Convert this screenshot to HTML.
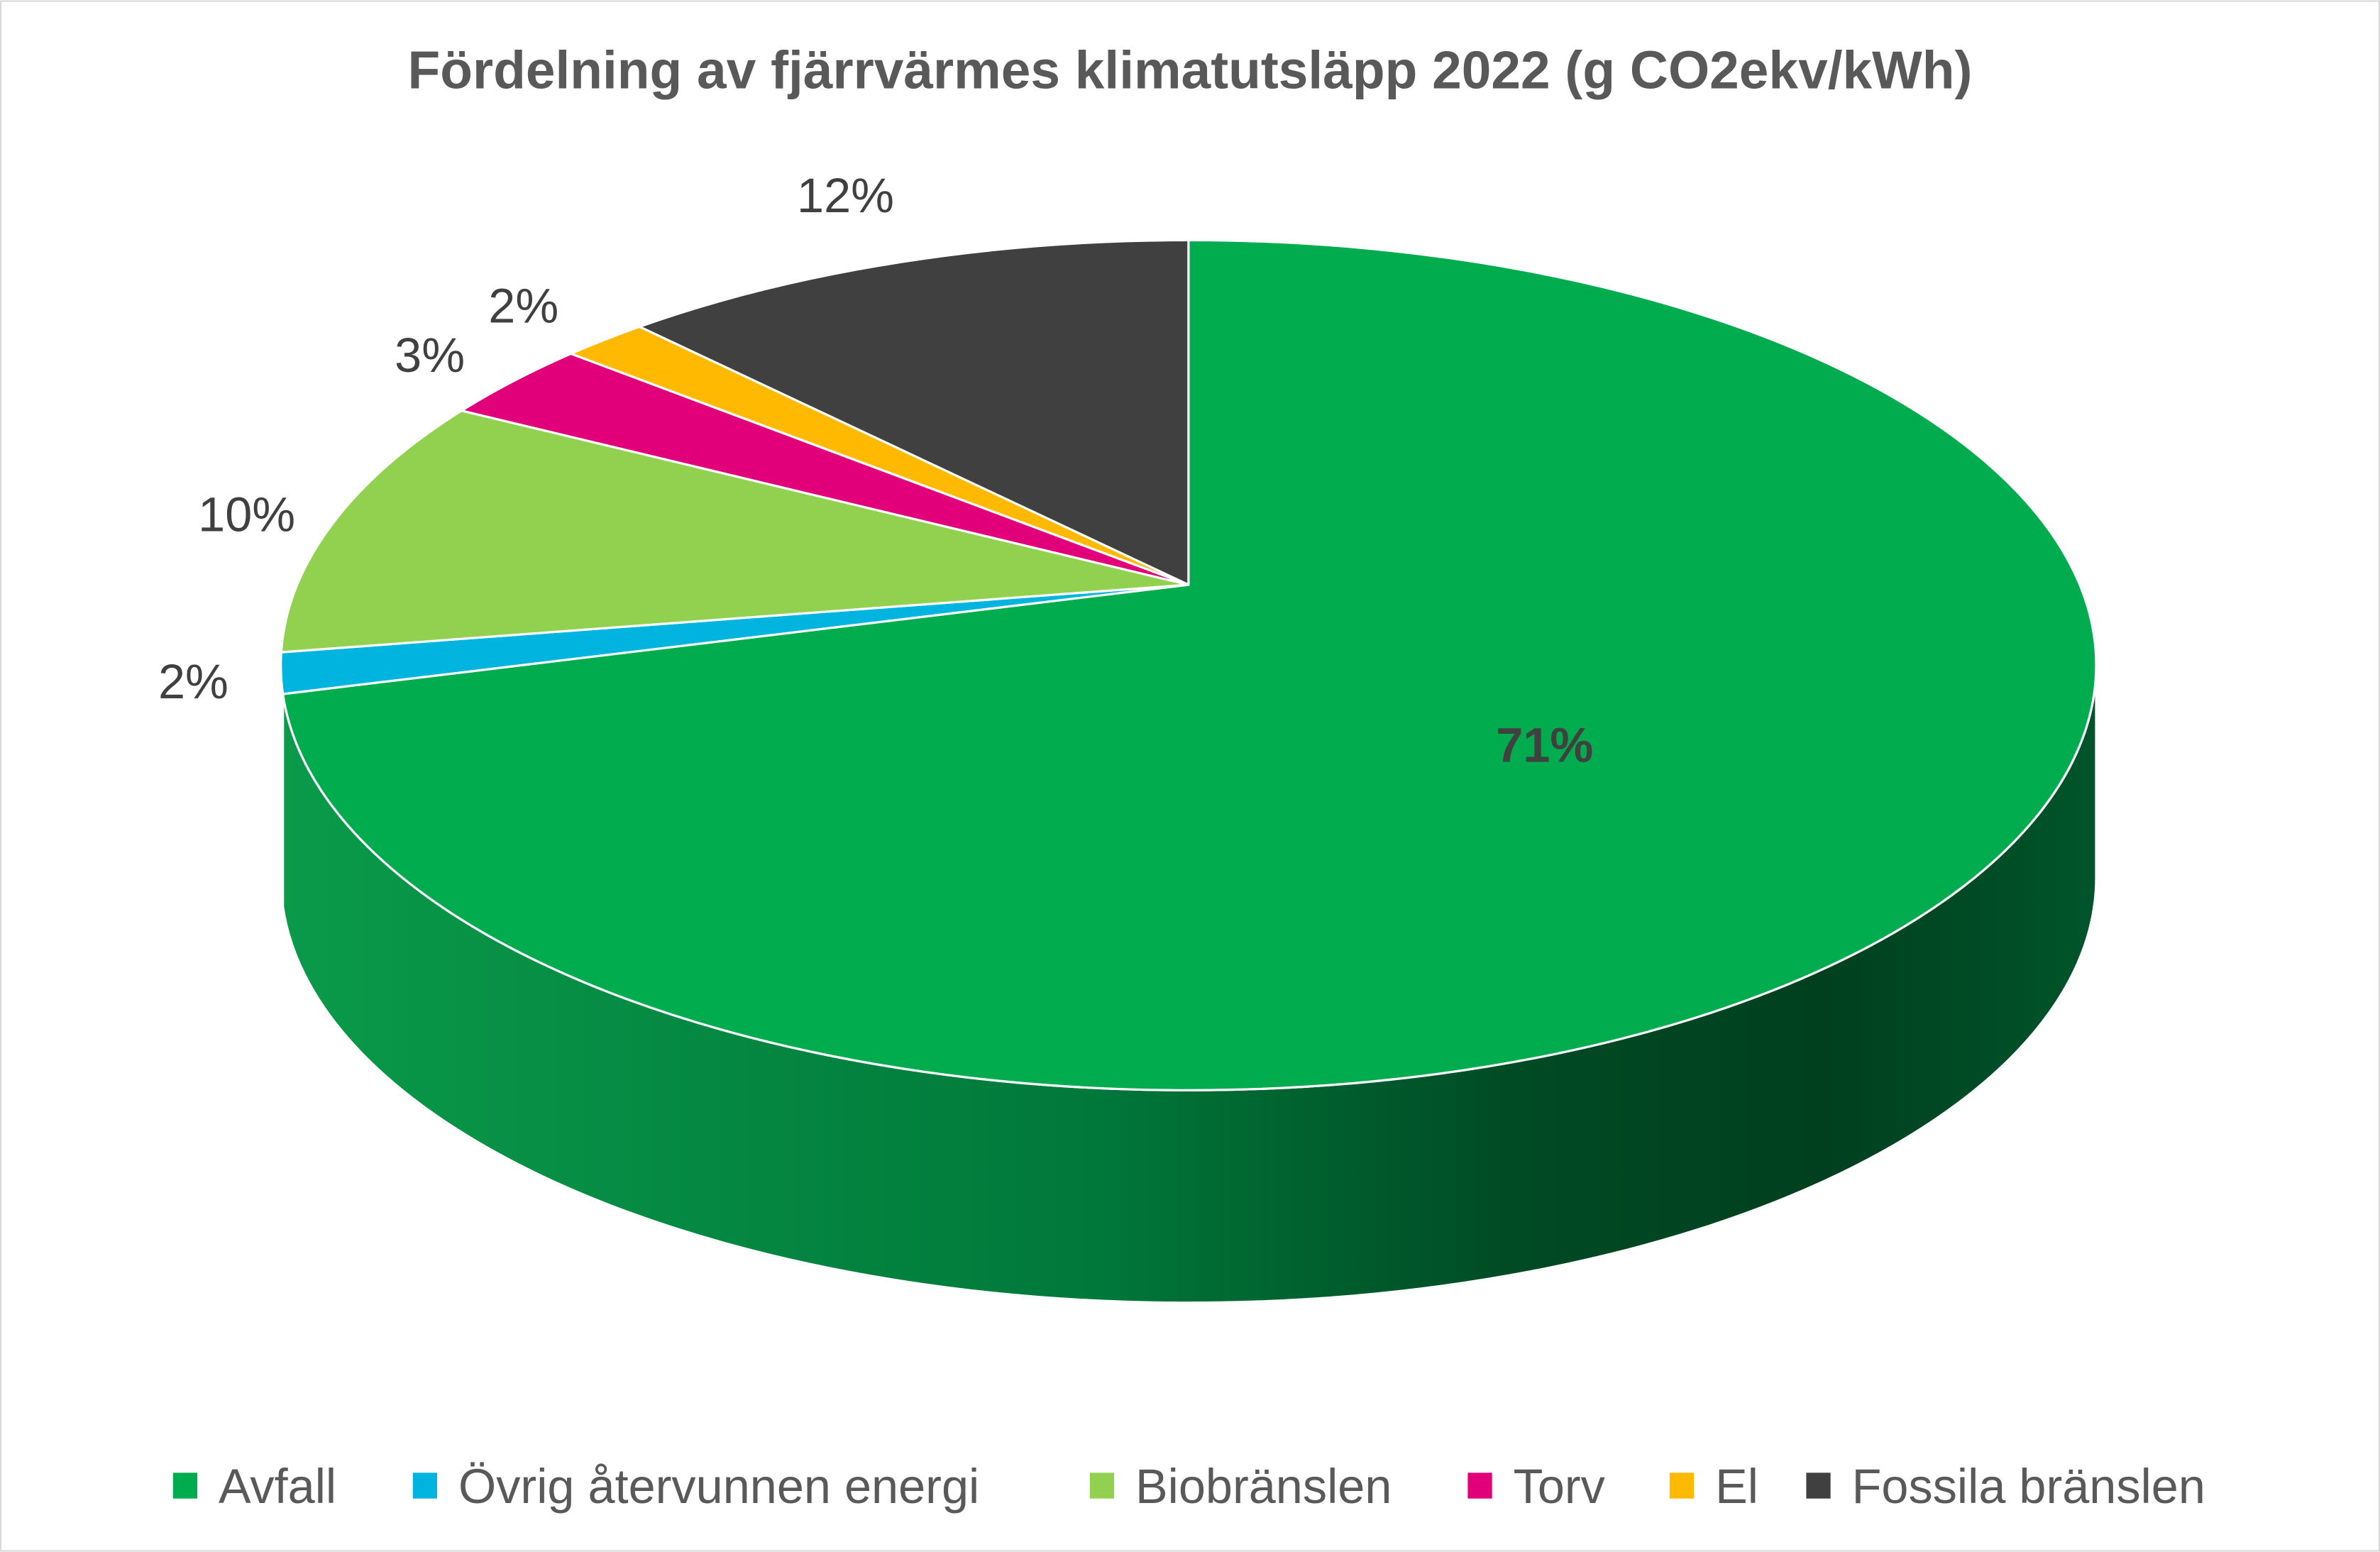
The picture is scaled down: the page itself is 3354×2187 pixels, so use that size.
<!DOCTYPE html>
<html><head><meta charset="utf-8"><style>
html,body{margin:0;padding:0;background:#fff;}
svg{display:block;}
text{font-family:"Liberation Sans",sans-serif;}
</style></head><body>
<svg id="chart" width="3354" height="2187" viewBox="0 0 1568 1022" xmlns="http://www.w3.org/2000/svg">
<defs>
<linearGradient id="sideGrad" x1="185" y1="0" x2="1381" y2="0" gradientUnits="userSpaceOnUse">
<stop offset="0" stop-color="#0a9a4a"/>
<stop offset="0.45" stop-color="#00783a"/>
<stop offset="0.68" stop-color="#004a24"/>
<stop offset="0.85" stop-color="#00401f"/>
<stop offset="1" stop-color="#00542a"/>
</linearGradient>
</defs>
<rect x="0.5" y="0.5" width="1567" height="1021" fill="#fff" stroke="#d9d9d9" stroke-width="1"/>
<text x="784" y="58" text-anchor="middle" font-size="35" font-weight="bold" fill="#595959">Fördelning av fjärrvärmes klimatutsläpp 2022 (g CO2ekv/kWh)</text>
<g id="pie"></g>
<g id="labels"></g>
<g id="legend"></g>
</svg>
<script>
const categories = ["Avfall","Övrig återvunnen energi","Biobränslen","Torv","El","Fossila bränslen"];
const values = [71, 1.5, 10, 3.2, 1.8, 12.5];
const valueLabels = ["71%","2%","10%","3%","2%","12%"];
const colors = ["#00AC4E","#00B4E0","#92D050","#E2007A","#FFB900","#404040"];
const legendX = [114, 272, 718, 967, 1100, 1190];

const NS="http://www.w3.org/2000/svg";
const cx=783, cy=438, rx=598, ry=280, ax=783, ay=385, flat=0.47, depth=140;
function edge(theta){
  const dx=Math.sin(theta), dy=-Math.cos(theta)*flat;
  const px=ax-cx, py=ay-cy;
  const A=dx*dx/(rx*rx)+dy*dy/(ry*ry);
  const B=2*(px*dx/(rx*rx)+py*dy/(ry*ry));
  const C=px*px/(rx*rx)+py*py/(ry*ry)-1;
  const t=(-B+Math.sqrt(B*B-4*A*C))/(2*A);
  return {x:ax+t*dx,y:ay+t*dy,dx:dx,dy:dy};
}
const pie=document.getElementById('pie');
const labels=document.getElementById('labels');
const total=values.reduce((a,b)=>a+b,0);
let cum=0;
const slices=[];
values.forEach((v,i)=>{
  const a0=cum/total*2*Math.PI; cum+=v; const a1=cum/total*2*Math.PI;
  slices.push({a0,a1,p0:edge(a0),p1:edge(a1),large:(a1-a0)>Math.PI?1:0});
});
// side wall (front part of Avfall slice)
const s0=slices[0];
const pl=s0.p1;
const side=document.createElementNS(NS,'path');
side.setAttribute('d',`M${pl.x},${pl.y} A${rx} ${ry} 0 0 0 ${cx+rx},${cy} L${cx+rx},${cy+depth} A${rx} ${ry} 0 0 1 ${pl.x},${pl.y+depth} Z`);
side.setAttribute('fill','url(#sideGrad)');
side.setAttribute('stroke','#fff');
side.setAttribute('stroke-width','1.5');


pie.appendChild(side);
slices.forEach((s,i)=>{
  const p=document.createElementNS(NS,'path');
  p.setAttribute('d',`M${ax},${ay} L${s.p0.x},${s.p0.y} A${rx} ${ry} 0 ${s.large} 1 ${s.p1.x},${s.p1.y} Z`);
  p.setAttribute('fill',colors[i]);
  p.setAttribute('stroke','#fff');
  p.setAttribute('stroke-width','1.5');
  p.setAttribute('stroke-linejoin','round');
  
  
  pie.appendChild(p);
  const mid=(s.a0+s.a1)/2, e=edge(mid);
  const len=Math.hypot(e.dx,e.dy);
  let lx,ly;
  if(i===0){ lx=ax+(e.x-ax)*0.45; ly=ay+(e.y-ay)*0.45+20; }
  else { lx=e.x+e.dx/len*58; ly=e.y+e.dy/len*58; }
  const t=document.createElementNS(NS,'text');
  t.setAttribute('x',lx); t.setAttribute('y',ly+11);
  t.setAttribute('text-anchor','middle');
  t.setAttribute('font-size','32');
  t.setAttribute('fill','#404040');
  if(i===0) t.setAttribute('font-weight','bold');
  
  
  t.textContent=valueLabels[i];
  labels.appendChild(t);
});
const legend=document.getElementById('legend');
categories.forEach((c,i)=>{
  const r=document.createElementNS(NS,'rect');
  r.setAttribute('x',legendX[i]); r.setAttribute('y',970);
  r.setAttribute('width',16); r.setAttribute('height',17);
  r.setAttribute('fill',colors[i]);
  
  
  legend.appendChild(r);
  const t=document.createElementNS(NS,'text');
  t.setAttribute('x',legendX[i]+30); t.setAttribute('y',990);
  t.setAttribute('font-size','32');
  t.setAttribute('fill','#595959');
  
  
  t.textContent=c;
  legend.appendChild(t);
});
</script>
</body></html>
